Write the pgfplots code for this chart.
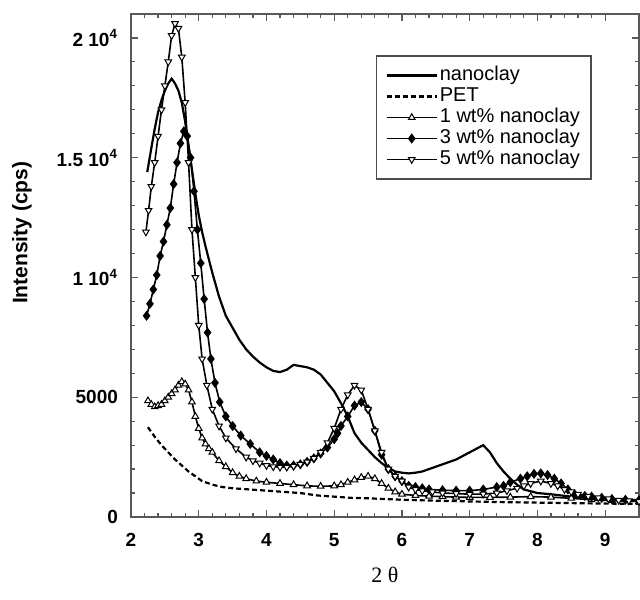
\documentclass[border=0pt]{standalone}
\usepackage{fontspec}
\setmainfont{Liberation Sans}
\newfontfamily\serif{Liberation Serif}
\usepackage{pgfplots}
\pgfplotsset{compat=1.18}

% diffraction scans
\pgfplotstableread{
x y
2.24 14400
2.30 15400
2.35 16200
2.40 16900
2.45 17400
2.50 17800
2.55 18100
2.60 18300
2.65 18100
2.70 17800
2.75 17300
2.80 16500
2.85 15500
2.90 14500
2.95 13500
3.00 12600
3.05 11900
3.10 11300
3.20 10200
3.30 9200
3.40 8400
3.50 7900
3.60 7400
3.70 7000
3.80 6700
3.90 6450
4.00 6250
4.10 6100
4.20 6050
4.30 6150
4.40 6350
4.50 6300
4.60 6250
4.70 6150
4.80 5950
4.90 5600
5.00 5250
5.10 4750
5.20 4200
5.30 3500
5.40 3100
5.50 2800
5.60 2500
5.70 2250
5.80 2050
5.90 1900
6.00 1850
6.10 1820
6.20 1850
6.30 1900
6.40 2000
6.50 2100
6.60 2200
6.70 2300
6.80 2400
6.90 2550
7.00 2700
7.10 2850
7.20 3000
7.30 2700
7.40 2250
7.50 1900
7.60 1600
7.70 1350
7.80 1150
8.00 1000
8.20 950
8.50 850
8.80 800
9.10 750
9.50 700
}\clay

\pgfplotstableread{
x y
2.25 3750
2.35 3350
2.45 3000
2.55 2700
2.65 2400
2.75 2150
2.85 1900
2.95 1700
3.05 1500
3.20 1350
3.35 1250
3.50 1200
3.75 1150
4.00 1100
4.25 1050
4.50 1000
4.75 900
5.00 850
5.25 800
5.50 780
5.75 750
6.00 720
6.50 680
7.00 650
7.50 620
8.00 600
8.50 580
9.00 560
9.50 550
}\pet

\pgfplotstableread{
x y
2.25 4850
2.30 4700
2.35 4600
2.40 4650
2.45 4700
2.50 4850
2.55 5000
2.60 5150
2.65 5300
2.70 5500
2.75 5650
2.80 5550
2.85 5300
2.90 4800
2.95 4200
3.00 3700
3.05 3300
3.10 3050
3.15 2850
3.20 2700
3.30 2350
3.40 2100
3.50 1850
3.60 1700
3.70 1600
3.85 1500
4.00 1450
4.20 1400
4.40 1350
4.60 1300
4.80 1280
5.00 1300
5.10 1350
5.20 1450
5.30 1550
5.40 1650
5.50 1700
5.60 1600
5.70 1400
5.80 1200
5.90 1050
6.00 950
6.20 900
6.40 870
6.60 850
6.80 830
7.00 820
7.30 820
7.60 830
7.90 850
8.20 830
8.50 780
8.80 720
9.10 680
9.50 650
}\wtone

\pgfplotstableread{
x y
2.23 8400
2.28 8900
2.33 9500
2.38 10100
2.43 10900
2.48 11500
2.53 12200
2.58 12900
2.63 13900
2.68 14800
2.73 15600
2.78 16100
2.83 15900
2.88 15000
2.93 13600
2.98 12000
3.03 10600
3.08 9100
3.13 7700
3.18 6600
3.24 5600
3.31 4800
3.40 4200
3.50 3800
3.62 3400
3.76 3050
3.90 2700
4.00 2550
4.10 2400
4.20 2250
4.30 2150
4.40 2150
4.50 2200
4.60 2300
4.70 2450
4.80 2650
4.90 2900
5.00 3250
5.05 3500
5.10 3800
5.20 4200
5.30 4650
5.40 4800
5.50 4500
5.60 3600
5.70 2600
5.80 2000
5.90 1700
6.00 1500
6.10 1300
6.20 1250
6.30 1200
6.40 1150
6.60 1120
6.80 1100
7.00 1100
7.20 1150
7.40 1250
7.50 1300
7.60 1450
7.75 1600
7.85 1700
7.95 1800
8.05 1820
8.15 1750
8.25 1600
8.35 1400
8.45 1150
8.55 950
8.70 880
8.80 850
8.95 800
9.10 750
9.30 720
9.50 700
}\wtthree

\pgfplotstableread{
x y
2.22 11900
2.26 12800
2.30 13800
2.35 14800
2.40 15900
2.45 17000
2.50 18000
2.55 19000
2.60 20100
2.65 20600
2.70 20400
2.75 19200
2.80 17300
2.85 14800
2.90 12000
2.95 10000
3.00 8000
3.05 6600
3.12 5500
3.20 4500
3.30 3800
3.40 3300
3.55 2850
3.70 2500
3.80 2350
3.90 2250
4.00 2150
4.10 2100
4.20 2080
4.30 2080
4.40 2120
4.50 2200
4.60 2300
4.70 2450
4.80 2700
4.90 3100
5.00 3700
5.10 4500
5.20 5100
5.30 5500
5.40 5300
5.50 4500
5.60 3600
5.70 2700
5.80 2000
5.90 1700
6.00 1500
6.10 1250
6.20 1150
6.30 1100
6.45 1050
6.60 1000
6.80 980
7.00 950
7.20 960
7.40 1000
7.55 1100
7.70 1200
7.80 1300
7.90 1400
8.05 1500
8.20 1400
8.30 1300
8.40 1150
8.50 1050
8.60 950
8.75 870
8.90 800
9.05 760
9.20 700
9.35 680
9.50 650
}\wtfive

\begin{document}
\begin{tikzpicture}
\begin{axis}[
  name=ax,
  scale only axis,
  width=254pt, height=251.5pt,
  xmin=2, xmax=9.5, ymin=0, ymax=21000,
  xtick={2,...,9},
  xticklabels={2,3,4,5,6,7,8,9},
  minor x tick num=4,
  ytick={0,5000,10000,15000,20000},
  yticklabels={0,5000,1 10\textsuperscript{4},1.5 10\textsuperscript{4},2 10\textsuperscript{4}},
  minor y tick num=4,
  scaled y ticks=false,
  tick align=inside,
  major tick length=3.5pt, minor tick length=2pt,
  axis line style={black!65, line width=0.8pt},
  every tick/.style={black!65, line width=0.6pt},
  tick label style={font=\bfseries\fontsize{9.5}{10}\selectfont},
  xticklabel style={yshift=-4.5pt},
  yticklabel style={xshift=-3pt},
  xlabel={2 θ},
  xlabel style={at={(axis description cs:0.5,0)}, anchor=center, yshift=-29pt,
    font=\serif\fontsize{11}{12}\selectfont},
  ylabel={Intensity (cps)},
  ylabel style={at={(axis description cs:-0.2146,0.565)}, anchor=center,
    font=\bfseries\fontsize{10.5}{12}\selectfont},
  legend cell align=left,
  legend style={at={(0.482,0.918)}, anchor=north west,
    draw=black!70, line width=0.8pt, fill=white,
    inner xsep=4.5pt, inner ysep=4.5pt, row sep=0pt,
    font=\fontsize{10}{10}\selectfont,
    nodes={inner xsep=1pt, inner ysep=0.25pt, text height=7.5pt, text depth=2.5pt}},
  legend image code/.code={%
    \draw[mark repeat=2, mark phase=2, #1]
      plot coordinates {(0pt,0pt) (12.5pt,0pt) (25pt,0pt)};},
]
\addplot[black, line width=1.1pt] table {\clay};
\addlegendentry{nanoclay}
\addplot[black, line width=1.1pt, dash pattern=on 2.5pt off 1.5pt] table {\pet};
\addlegendentry{PET}
\addplot[black, line width=0.8pt, mark=triangle*, mark size=1.9pt,
  mark options={fill=white, line width=0.5pt, solid}] table {\wtone};
\addlegendentry{1 wt\% nanoclay}
\addplot[black, line width=0.8pt, mark=diamond*, mark size=1.9pt,
  mark options={fill=black, solid}] table {\wtthree};
\addlegendentry{3 wt\% nanoclay}
\addplot[black, line width=0.8pt, mark=triangle*, mark size=1.9pt,
  mark options={fill=white, rotate=180, line width=0.5pt, solid}] table {\wtfive};
\addlegendentry{5 wt\% nanoclay}
\end{axis}
\pgfresetboundingbox
\path[use as bounding box] (-65.5pt,-41pt) rectangle (254.5pt,258.5pt);
\end{tikzpicture}
\end{document}
